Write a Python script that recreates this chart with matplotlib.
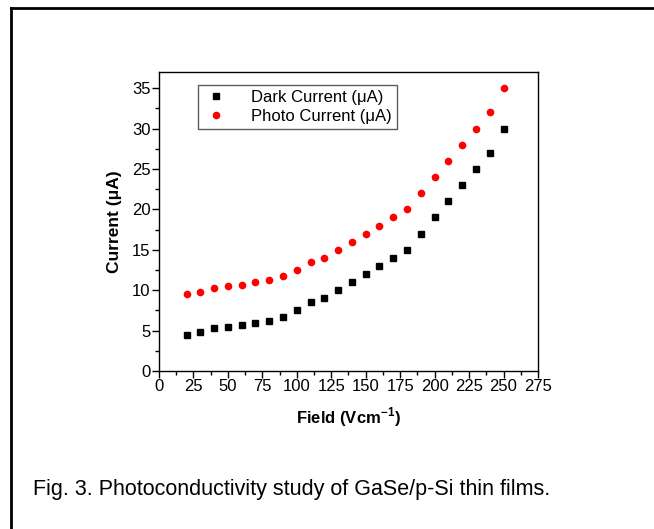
import numpy as np
import matplotlib
matplotlib.use('Agg')
import matplotlib.pyplot as plt
from matplotlib.ticker import MultipleLocator
from matplotlib.lines import Line2D

plt.rcParams['font.family'] = ['Liberation Sans', 'DejaVu Sans']
plt.rcParams['mathtext.fontset'] = 'custom'
plt.rcParams['mathtext.rm'] = 'Liberation Sans'
plt.rcParams['mathtext.bf'] = 'Liberation Sans:bold'

# 데이터
field = [20, 30, 40, 50, 60, 70, 80, 90, 100, 110, 120, 130,
         140, 150, 160, 170, 180, 190, 200, 210, 220, 230, 240, 250]
darkCurrent = [4.5, 4.8, 5.3, 5.5, 5.7, 6.0, 6.2, 6.7, 7.5, 8.5, 9.0, 10,
               11, 12, 13, 14, 15, 17, 19, 21, 23, 25, 27, 30]
photoCurrent = [9.5, 9.8, 10.3, 10.5, 10.7, 11.0, 11.2, 11.7, 12.5, 13.5, 14, 15,
                16, 17, 18, 19, 20, 22, 24, 26, 28, 30, 32, 35]

fig = plt.figure(figsize=(6.54, 5.29), dpi=100)
ax = fig.add_axes([0.2431, 0.2987, 0.5795, 0.5652])

ax.plot(field, darkCurrent, 's', color='black', markersize=5, label='Dark Current (\u03bcA)')
ax.plot(field, photoCurrent, 'o', color='red', markersize=5.5, markeredgewidth=0, label='Photo Current (\u03bcA)')

ax.set_xlim(0, 275)
ax.set_ylim(0, 37)
ax.xaxis.set_major_locator(MultipleLocator(25))
ax.xaxis.set_minor_locator(MultipleLocator(12.5))
ax.yaxis.set_major_locator(MultipleLocator(5))
ax.yaxis.set_minor_locator(MultipleLocator(2.5))
ax.tick_params(which='major', direction='out', length=5, width=1, labelsize=12, pad=1)
ax.tick_params(which='minor', direction='out', length=3, width=1)
for s in ax.spines.values():
    s.set_linewidth(1)

ax.set_xlabel('Field (Vcm$^{\\mathbf{-1}}$)', fontsize=12, fontweight='bold', labelpad=8)
ax.set_ylabel('Current (\u03bcA)', fontsize=12.5, fontweight='bold', labelpad=7)

leg = ax.legend(loc='upper left', bbox_to_anchor=(0.103, 0.957), borderaxespad=0,
                fontsize=12, frameon=True, fancybox=False, edgecolor='#333333',
                handletextpad=1.3, borderpad=0.3, labelspacing=0.25, handlelength=1.6)
leg.get_frame().set_linewidth(1)

# 바깥 테두리 (위쪽, 왼쪽)
fig.add_artist(Line2D([11 / 654, 11 / 654], [0, 1 - 8 / 529], color='black', linewidth=2))
fig.add_artist(Line2D([11 / 654, 1], [1 - 8 / 529, 1 - 8 / 529], color='black', linewidth=2))

fig.text(33 / 654, 1 - 490 / 529, 'Fig. 3. Photoconductivity study of GaSe/p-Si thin films.',
         fontsize=15.5, va='center', ha='left')

fig.savefig('out.png', dpi=100)
